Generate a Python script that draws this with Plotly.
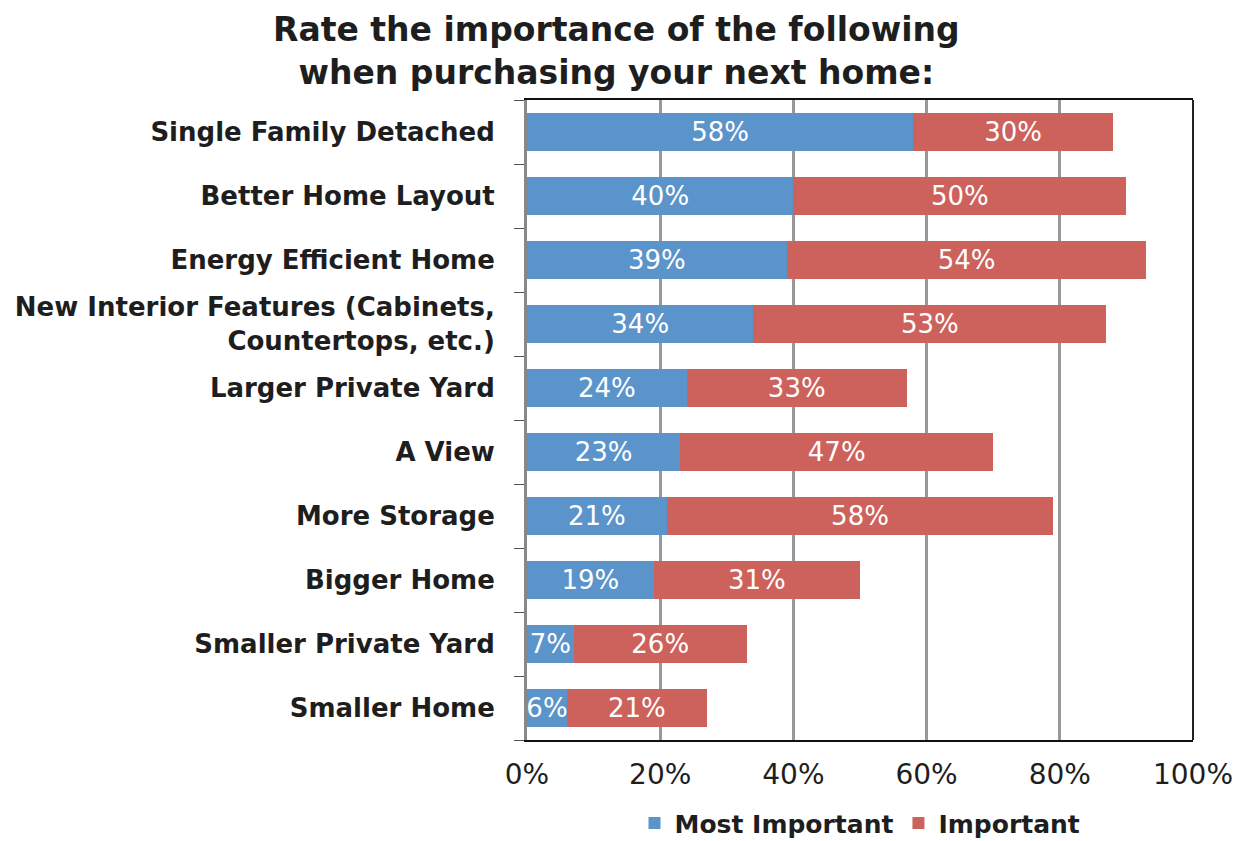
import plotly.graph_objects as go

categories = [
    "Single Family Detached",
    "Better Home Layout",
    "Energy Efficient Home",
    "New Interior Features (Cabinets,<br>Countertops, etc.)",
    "Larger Private Yard",
    "A View",
    "More Storage",
    "Bigger Home",
    "Smaller Private Yard",
    "Smaller Home",
]
most_important = [58, 40, 39, 34, 24, 23, 21, 19, 7, 6]
important = [30, 50, 54, 53, 33, 47, 58, 31, 26, 21]
x_ticks = [0, 20, 40, 60, 80, 100]
x_tick_labels = ["0%", "20%", "40%", "60%", "80%", "100%"]
title_text = "Rate the importance of the following<br>when purchasing your next home:"

BLUE = "#5B93CB"
RED = "#CD615B"
FONT = "DejaVu Sans"
DARK = "#1e1e1e"

fig = go.Figure()
for name, vals, color in [("Most Important", most_important, BLUE),
                          ("Important", important, RED)]:
    fig.add_trace(go.Bar(
        y=categories, x=vals, orientation="h", name=name,
        marker=dict(color=color, line=dict(width=0)),
        text=[f"{v}%" for v in vals], textposition="inside",
        insidetextanchor="middle",
        textfont=dict(color="white", size=26, family=FONT),
        cliponaxis=False,
    ))

fig.update_layout(
    barmode="stack",
    bargap=0.4,
    width=1232, height=833,
    margin=dict(l=519, r=47, t=92, b=101, autoexpand=False),
    paper_bgcolor="white", plot_bgcolor="white",
    uniformtext=dict(minsize=26, mode="show"),
    font=dict(family=FONT, color=DARK),
    legend=dict(
        orientation="h", x=0.5, xanchor="center", y=-0.094, yanchor="top",
        font=dict(size=25, family=FONT, color=DARK, weight="bold"),
        traceorder="normal", itemwidth=30,
    ),
    showlegend=True,
)
fig.add_annotation(
    text=f"<b>{title_text}</b>", xref="paper", yref="paper",
    x=0.135, y=1.076, xanchor="center", yanchor="middle",
    showarrow=False, align="center",
    font=dict(size=33, family=FONT, color=DARK),
)
# right border of the plot frame
fig.add_shape(type="line", xref="paper", yref="paper", x0=1, x1=1, y0=0, y1=1,
              line=dict(color="#222222", width=2))

fig.update_xaxes(
    range=[0, 100], tickvals=x_ticks, ticktext=x_tick_labels,
    showgrid=True, gridcolor="#999999", gridwidth=3,
    showline=True, linecolor="#111111", linewidth=2, mirror=True,
    ticks="", tickfont=dict(size=28, family=FONT, color=DARK),
    ticklabelstandoff=8, zeroline=False, automargin=False,
)
fig.update_yaxes(
    categoryorder="array", categoryarray=categories[::-1],
    showgrid=False,
    showline=True, linecolor="#888888", linewidth=3, mirror=False,
    ticks="outside", ticklen=10, tickcolor="#555555", tickson="boundaries",
    tickfont=dict(size=26, family=FONT, color=DARK, weight="bold"),
    ticklabelstandoff=24, automargin=False,
)

fig.write_html("out.html")
